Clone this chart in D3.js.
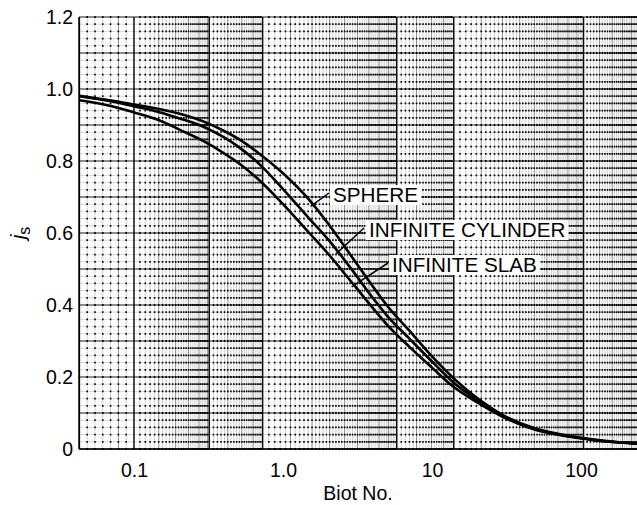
<!DOCTYPE html>
<html>
<head>
<meta charset="utf-8">
<script src="https://cdn.jsdelivr.net/npm/d3@7"></script>
<style>
  html, body { margin: 0; padding: 0; background: #fff; }
  svg { display: block; font-family: "Liberation Sans", Arial, Helvetica, sans-serif; }
</style>
</head>
<body>
<div id="chart"></div>
<script>
// values (Biot number vs j_s)
const biot = [0.043, 0.07, 0.1, 0.15, 0.2, 0.3, 0.4, 0.5, 0.7, 1, 1.5, 2, 3, 4, 5, 7, 10, 14, 20, 30, 50, 70, 100, 150, 238];
const sphere = [0.981, 0.968, 0.957, 0.944, 0.932, 0.908, 0.884, 0.862, 0.819, 0.766, 0.692, 0.627, 0.525, 0.452, 0.398, 0.330, 0.257, 0.196, 0.142, 0.094, 0.056, 0.042, 0.031, 0.022, 0.015];
const cylinder = [0.980, 0.966, 0.952, 0.935, 0.919, 0.893, 0.866, 0.840, 0.790, 0.722, 0.640, 0.583, 0.490, 0.420, 0.370, 0.308, 0.243, 0.184, 0.136, 0.091, 0.054, 0.041, 0.030, 0.021, 0.015];
const slab = [0.969, 0.953, 0.935, 0.912, 0.888, 0.853, 0.822, 0.795, 0.745, 0.680, 0.600, 0.543, 0.455, 0.392, 0.345, 0.285, 0.226, 0.172, 0.130, 0.089, 0.053, 0.040, 0.030, 0.021, 0.015];

const curveNames = ['SPHERE', 'INFINITE CYLINDER', 'INFINITE SLAB'];
const leaderBiot = [1.59, 2.34, 3.0];

const xTickValues = [0.1, 1, 10, 100];
const xTickLabels = ['0.1', '1.0', '10', '100'];
const yTickValues = [0, 0.2, 0.4, 0.6, 0.8, 1.0, 1.2];
const yTickLabels = ['0', '0.2', '0.4', '0.6', '0.8', '1.0', '1.2'];

// ruling of the graph paper underneath: band start, band end (Biot), line count, crowding
const bandFrom = [0.043, 0.1, 0.32, 0.73, 5.8, 14, 104];
const bandTo = [0.1, 0.32, 0.73, 5.8, 14, 104, 240];
const bandLines = [7, 26, 20, 45, 20, 44, 24];
const bandCrowd = [0, 3, 1.5, 3, 1.5, 3, 1.5];

const width = 637, height = 505;
const plot = { left: 79, right: 637, top: 17, bottom: 449 };

const x = d3.scaleLog().domain([0.04275, 237.6]).range([plot.left, plot.right]);
const y = d3.scaleLinear().domain([0, 1.2]).range([plot.bottom, plot.top]);

const svg = d3.select('#chart').append('svg')
  .attr('width', width)
  .attr('height', height);

svg.append('defs').append('clipPath').attr('id', 'plotClip')
  .append('rect')
  .attr('x', plot.left).attr('y', plot.top - 1)
  .attr('width', plot.right - plot.left).attr('height', plot.bottom - plot.top + 2);

const grid = svg.append('g').attr('clip-path', 'url(#plotClip)');

// horizontal rules: solid every 0.1, light every 0.02
const rows = d3.range(0, 61).map(i => +(i * 0.02).toFixed(2));
grid.selectAll('line.row')
  .data(rows)
  .enter().append('line')
  .attr('class', 'row')
  .attr('x1', plot.left).attr('x2', plot.right)
  .attr('y1', d => y(d)).attr('y2', d => y(d))
  .attr('stroke', '#000')
  .attr('stroke-width', (d, i) => i % 5 === 0 ? 1.2 : 0.8)
  .attr('stroke-opacity', (d, i) => i % 5 === 0 ? 0.9 : 0.2);

// vertical rules, crowding toward the end of each band
const cols = [];
bandFrom.forEach((a, bi) => {
  const b = bandTo[bi], n = bandLines[bi], c = bandCrowd[bi];
  for (let k = 0; k < n; k++) {
    const t = c > 0 ? Math.log1p(c * k / n) / Math.log1p(c) : k / n;
    cols.push({ v: a * Math.pow(b / a, t), kind: k === 0 ? 'edge' : (k % 5 === 0 ? 'mid' : 'minor') });
  }
});

const rowGap = y(0) - y(0.02);
// faint body of each column line
grid.selectAll('line.colbody')
  .data(cols)
  .enter().append('line')
  .attr('class', 'colbody')
  .attr('x1', d => x(d.v)).attr('x2', d => x(d.v))
  .attr('y1', plot.top).attr('y2', plot.bottom)
  .attr('stroke', '#000')
  .attr('stroke-width', d => d.kind === 'edge' ? 1.5 : 0.9)
  .attr('stroke-opacity', d => d.kind === 'edge' ? 0.95 : d.kind === 'mid' ? 0.5 : 0.2);

// dots where columns cross the 0.02 rows
grid.selectAll('line.coldot')
  .data(cols.filter(d => d.kind !== 'edge'))
  .enter().append('line')
  .attr('class', 'coldot')
  .attr('x1', d => x(d.v)).attr('x2', d => x(d.v))
  .attr('y1', plot.top - 0.9).attr('y2', plot.bottom + 1)
  .attr('stroke', '#000')
  .attr('stroke-width', 1.6)
  .attr('stroke-dasharray', `1.8,${(rowGap - 1.8).toFixed(2)}`)
  .attr('stroke-opacity', 0.95);

// axes
svg.append('line')
  .attr('x1', plot.left).attr('x2', plot.left)
  .attr('y1', plot.top).attr('y2', plot.bottom)
  .attr('stroke', '#000').attr('stroke-width', 1.5);
svg.append('line')
  .attr('x1', plot.left).attr('x2', plot.right)
  .attr('y1', plot.bottom).attr('y2', plot.bottom)
  .attr('stroke', '#000').attr('stroke-width', 1.5);

const xAxis = svg.append('g')
  .attr('transform', `translate(0,${plot.bottom})`)
  .call(d3.axisBottom(x).tickValues(xTickValues).tickSize(0).tickPadding(14)
    .tickFormat((d, i) => xTickLabels[i]));
const yAxis = svg.append('g')
  .attr('transform', `translate(${plot.left},0)`)
  .call(d3.axisLeft(y).tickValues(yTickValues).tickSize(0).tickPadding(6)
    .tickFormat((d, i) => yTickLabels[i]));
[xAxis, yAxis].forEach(g => {
  g.select('.domain').remove();
  g.selectAll('text')
    .attr('fill', '#000')
    .style('font-size', '19.5px')
    .style('font-family', '"Liberation Sans", Arial, sans-serif');
});

svg.append('text')
  .attr('x', (plot.left + plot.right) / 2)
  .attr('y', 500)
  .attr('text-anchor', 'middle')
  .style('font-size', '19.5px')
  .text('Biot No.');

const yLabel = svg.append('text')
  .attr('transform', 'translate(25,233) rotate(-90)')
  .attr('text-anchor', 'middle')
  .style('font-size', '21px');
yLabel.append('tspan').style('font-style', 'italic').text('j');
yLabel.append('tspan').attr('dy', 5).style('font-size', '16px').text('s');

// curves
const series = [sphere, cylinder, slab];
const line = d3.line()
  .x((d, i) => x(biot[i]))
  .y(d => y(d))
  .curve(d3.curveMonotoneX);

const curveLayer = svg.append('g').attr('clip-path', 'url(#plotClip)');
curveLayer.selectAll('path')
  .data(series)
  .enter().append('path')
  .attr('d', line)
  .attr('fill', 'none')
  .attr('stroke', '#000')
  .attr('stroke-width', 2.6)
  .attr('stroke-linejoin', 'round');

// value of a series at a Biot number (log interpolation between read points)
function valueAt(vals, b) {
  const i = Math.max(1, d3.bisectLeft(biot, b));
  const t = Math.log(b / biot[i - 1]) / Math.log(biot[i] / biot[i - 1]);
  return vals[i - 1] + t * (vals[i] - vals[i - 1]);
}

// curve labels with white boxes and leaders
const labelPos = [
  { tx: 333, ty: 202, lx: 329, ly: 193 },
  { tx: 369, ty: 237, lx: 364, ly: 228 },
  { tx: 392, ty: 272, lx: 388, ly: 263 }
];

const labels = svg.append('g');
curveNames.forEach((name, i) => {
  const p = labelPos[i];
  const g = labels.append('g');
  const box = g.append('rect').attr('fill', '#fff');
  const txt = g.append('text')
    .attr('x', p.tx).attr('y', p.ty)
    .style('font-size', '20.7px')
    .text(name);
  const bb = txt.node().getBBox();
  box.attr('x', bb.x - 3).attr('y', bb.y + 2)
    .attr('width', bb.width + 6).attr('height', bb.height - 3);

  const b = leaderBiot[i];
  const cx = x(b), cy = y(valueAt(series[i], b));
  const dx = cx - p.lx, dy = cy - p.ly, len = Math.hypot(dx, dy);
  labels.append('line')
    .attr('x1', p.lx).attr('y1', p.ly)
    .attr('x2', cx + dx / len * 3).attr('y2', cy + dy / len * 3)
    .attr('stroke', '#000')
    .attr('stroke-width', 1.5);
});
</script>
</body>
</html>
